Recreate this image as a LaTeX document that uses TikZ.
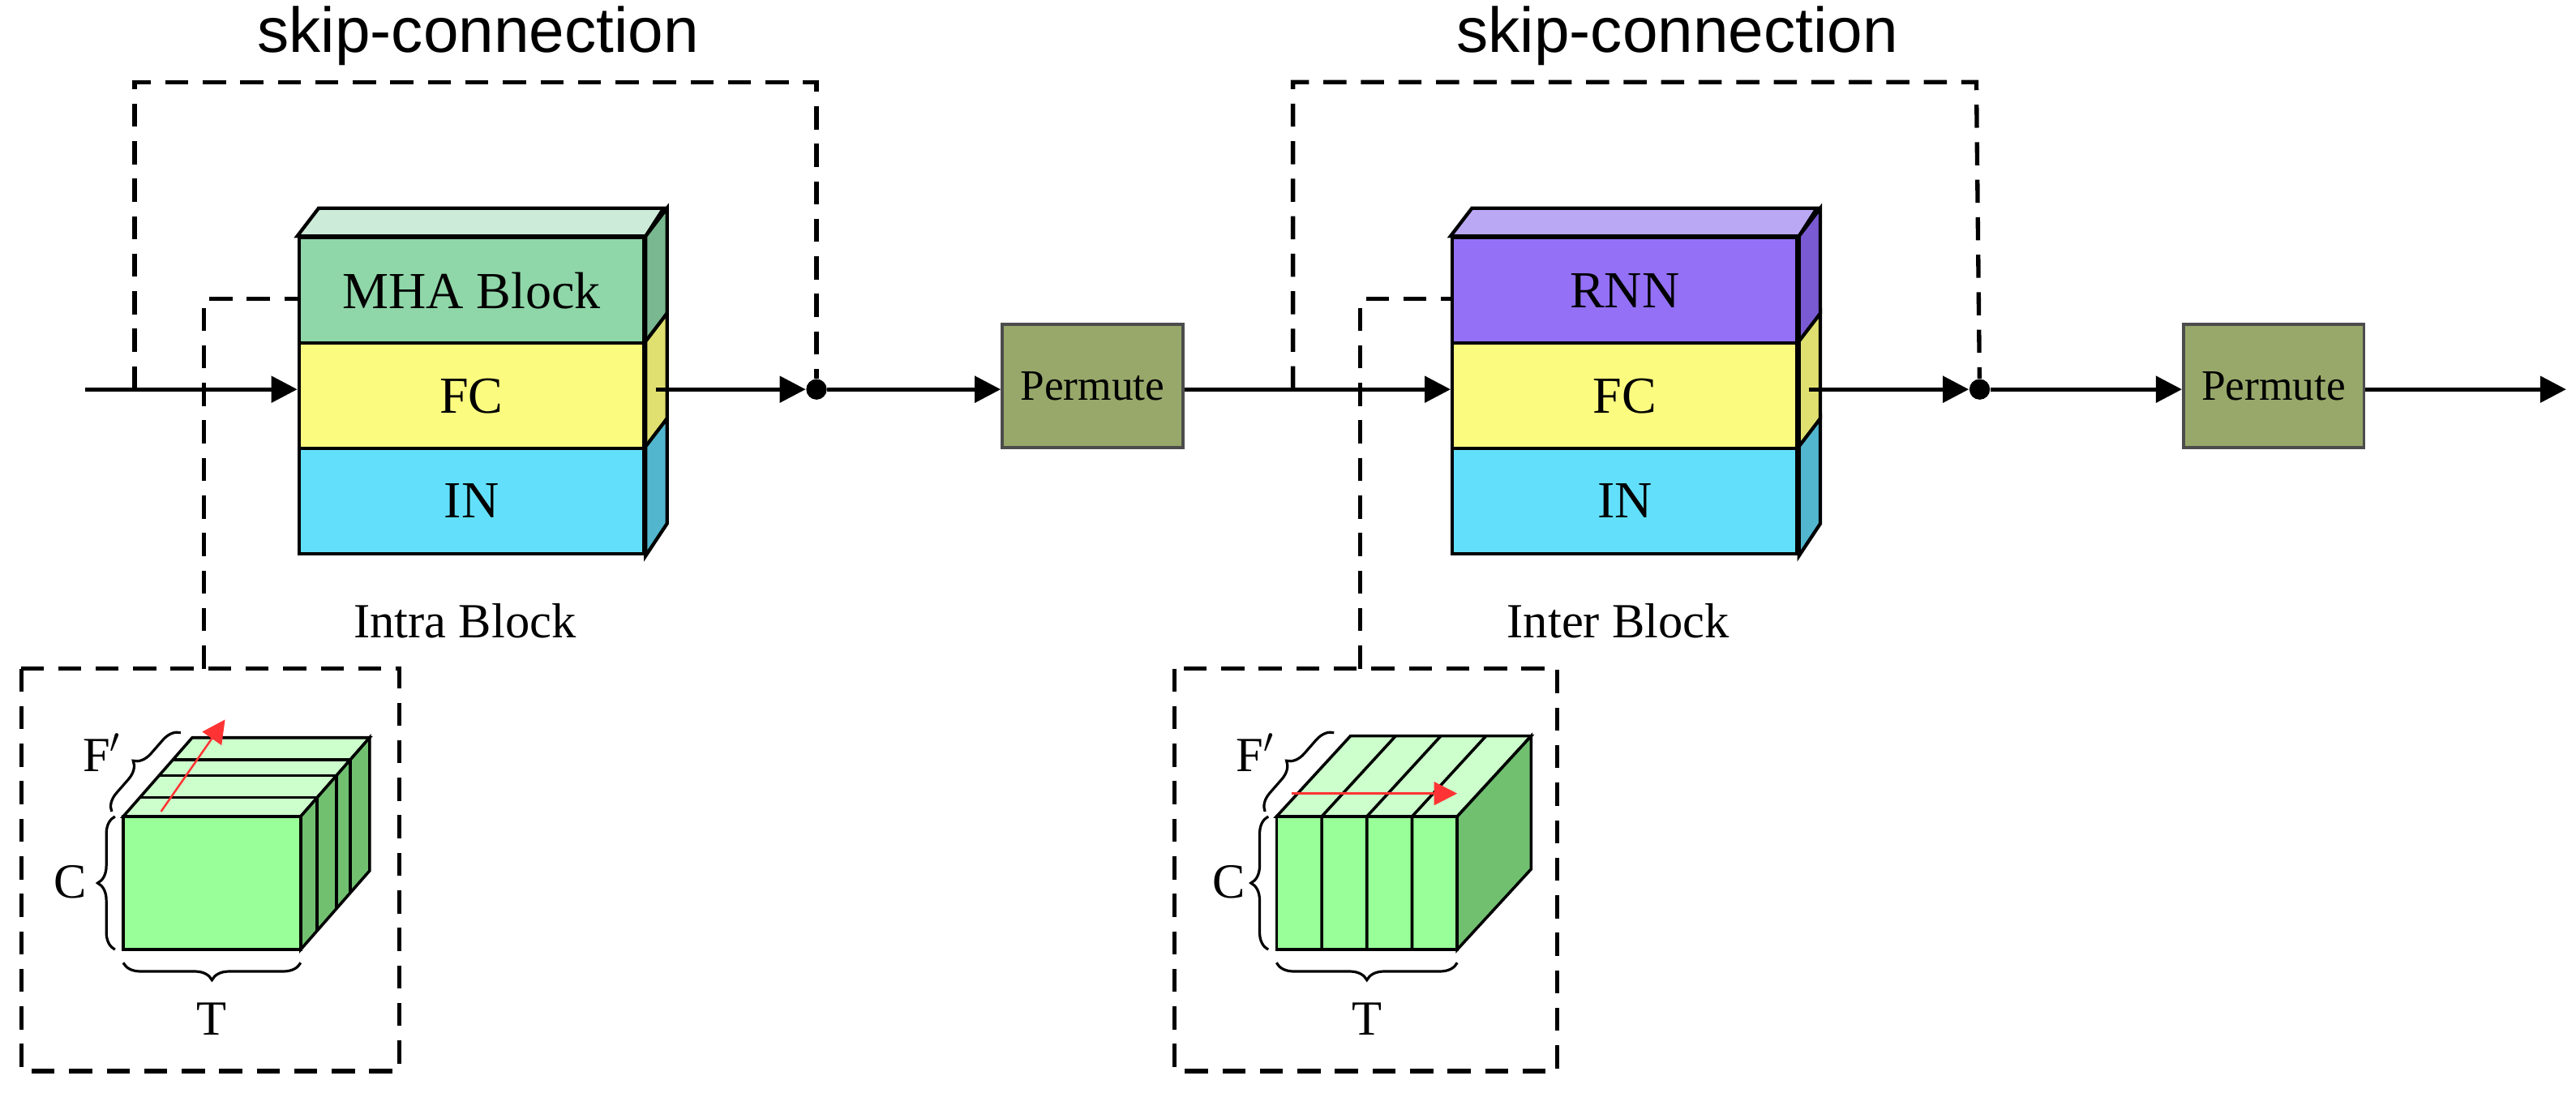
\documentclass[tikz,border=0pt]{standalone}
\usepackage{fontspec}
\setmainfont{Liberation Serif}
\newfontfamily\skipfont{Liberation Sans}
\usetikzlibrary{arrows.meta,decorations.pathreplacing}
\definecolor{mhaC}{HTML}{8FD6A8}
\definecolor{mhaT}{HTML}{CDEBD9}
\definecolor{mhaS}{HTML}{79B891}
\definecolor{fcC}{HTML}{FBFB80}
\definecolor{fcS}{HTML}{E0E070}
\definecolor{inC}{HTML}{62E0FB}
\definecolor{inS}{HTML}{52B6CE}
\definecolor{rnnC}{HTML}{9370F5}
\definecolor{rnnT}{HTML}{BBA8F5}
\definecolor{rnnS}{HTML}{7A5AD2}
\definecolor{permC}{HTML}{97A86A}
\definecolor{cubeF}{HTML}{99FF99}
\definecolor{cubeT}{HTML}{CCFFCC}
\definecolor{cubeS}{HTML}{70C070}

\begin{document}
\begin{tikzpicture}[x=0.02cm,y=-0.02cm,
  layer/.style={draw, line width=1.2pt, minimum width=4.2cm, minimum height=1.29cm, inner sep=0pt, font=\fontsize{18}{20}\selectfont},
  perm/.style={draw=black!70, fill=permC, line width=1pt, minimum width=2.2cm, minimum height=1.5cm, font=\fontsize{15}{17}\selectfont},
  dot/.style={circle, fill=black, inner sep=0pt, minimum size=0.25cm},
  flow/.style={line width=1.5pt, -{Triangle[length=9pt,width=9pt]}},
  skip/.style={line width=1.5pt, dash pattern=on 8pt off 5pt},
  lbl/.style={font=\fontsize{17}{19}\selectfont},
  brc/.style={decorate, decoration={brace, amplitude=6pt}, line width=0.9pt}]
\useasboundingbox (0,0) rectangle (1568,665);

% Intra block
\node[layer, fill=mhaC] (mha) at (287,177) {MHA Block};
\node[layer, fill=fcC] (fc1) at (287,241) {FC};
\node[layer, fill=inC] (in1) at (287,305) {IN};
\filldraw[fill=mhaT, line width=1.2pt] (mha.north west) -- ++(13,-17) -- ++(210,0) -- (mha.north east) -- cycle;
\filldraw[fill=mhaS, line width=1.2pt] (mha.north east) -- ++(13,-17) -- ++(0,64) -- (mha.south east) -- cycle;
\filldraw[fill=fcS, line width=1.2pt] (fc1.north east) -- ++(13,-17) -- ++(0,64) -- (fc1.south east) -- cycle;
\filldraw[fill=inS, line width=1.2pt] (in1.north east) -- ++(13,-17) -- ++(0,64) -- (in1.south east) -- cycle;
\node[lbl] (intra) at (283,378) {Intra Block};

% Inter block
\node[layer, fill=rnnC] (rnn) at (989,177) {RNN};
\node[layer, fill=fcC] (fc2) at (989,241) {FC};
\node[layer, fill=inC] (in2) at (989,305) {IN};
\filldraw[fill=rnnT, line width=1.2pt] (rnn.north west) -- ++(13,-17) -- ++(210,0) -- (rnn.north east) -- cycle;
\filldraw[fill=rnnS, line width=1.2pt] (rnn.north east) -- ++(13,-17) -- ++(0,64) -- (rnn.south east) -- cycle;
\filldraw[fill=fcS, line width=1.2pt] (fc2.north east) -- ++(13,-17) -- ++(0,64) -- (fc2.south east) -- cycle;
\filldraw[fill=inS, line width=1.2pt] (in2.north east) -- ++(13,-17) -- ++(0,64) -- (in2.south east) -- cycle;
\node[lbl] (inter) at (985,378) {Inter Block};

% Permute, dots
\node[perm] (p1) at (665,235) {Permute};
\node[perm] (p2) at (1384,235) {Permute};
\node[dot] (d1) at (497,237) {};
\node[dot] (d2) at (1205,237) {};
\coordinate (in) at (52,237);
\coordinate (out) at (1562,237);
\coordinate (s1) at (82,237);
\coordinate (s2) at (787,237);

% main flow
\draw[flow] (in) -- (in -| fc1.west);
\draw[flow] (fc1.east |- d1) ++(6,0) -- (d1.west);
\draw[flow] (d1) -- (p1.west |- d1);
\draw[flow] (p1.east |- d1) -- (fc2.west |- d1);
\draw[flow] (fc2.east |- d2) ++(6,0) -- (d2.west);
\draw[flow] (d2) -- (p2.west |- d2);
\draw[flow] (p2.east |- d2) -- (out);

% skip connections
\draw[skip] (s1) -- (82,50) -- (497,50) -- (d1);
\draw[skip] (s2) -- (787,50) -- (1203,50) -- (d2);
\node[font=\skipfont\fontsize{22}{24}\selectfont] (k1) at (291,22) {skip-connection};
\node[font=\skipfont\fontsize{22}{24}\selectfont] (k2) at (1021,22) {skip-connection};

% zoom boxes
\draw[skip] (13,407) rectangle (243,652);
\draw[skip] (715,407) rectangle (948,652);
\draw[skip] (124,407) -- (124,182) -- (mha.west |- 0,182);
\draw[skip] (828,407) -- (828,182) -- (rnn.west |- 0,182);

% left cube
\filldraw[fill=cubeT, line width=1pt] (75,497) -- (117,449) -- (225,449) -- (183,497) -- cycle;
\filldraw[fill=cubeS, line width=1pt] (183,497) -- (225,449) -- (225,530) -- (183,578) -- cycle;
\filldraw[fill=cubeF, line width=1pt] (75,497) rectangle (183,578);
\foreach \f in {0.24,0.52,0.72}
  \draw[line width=1pt] (75+42*\f,497-48*\f) -- (183+42*\f,497-48*\f) -- (183+42*\f,578-48*\f);
\draw[red!80, line width=0.7pt, -{Triangle[length=8pt,width=8pt]}] (98,494) -- (137,438);
\draw[brc] (70,578) -- (70,497);
\draw[brc] (183,586) -- (75,586);
\draw[brc] (68,494) -- (110,446);
\node[lbl] (c1) at (43,537) {C};
\node[lbl] (t1) at (129,620) {T};
\node[lbl] (f1) at (62,458) {F$'$};

% right cube
\filldraw[fill=cubeT, line width=1pt] (777,497) -- (822,448) -- (932,448) -- (887,497) -- cycle;
\filldraw[fill=cubeS, line width=1pt] (887,497) -- (932,448) -- (932,529) -- (887,578) -- cycle;
\filldraw[fill=cubeF, line width=1pt] (777,497) rectangle (887,578);
\foreach \f in {0.25,0.5,0.75}
  \draw[line width=1pt] (777+110*\f,578) -- (777+110*\f,497) -- (822+110*\f,448);
\draw[red!80, line width=0.7pt, -{Triangle[length=8pt,width=8pt]}] (786,483) -- (887,483);
\draw[brc] (772,578) -- (772,497);
\draw[brc] (887,586) -- (777,586);
\draw[brc] (770,494) -- (812,446);
\node[lbl] (c2) at (748,537) {C};
\node[lbl] (t2) at (832,620) {T};
\node[lbl] (f2) at (764,458) {F$'$};
\end{tikzpicture}
\end{document}
